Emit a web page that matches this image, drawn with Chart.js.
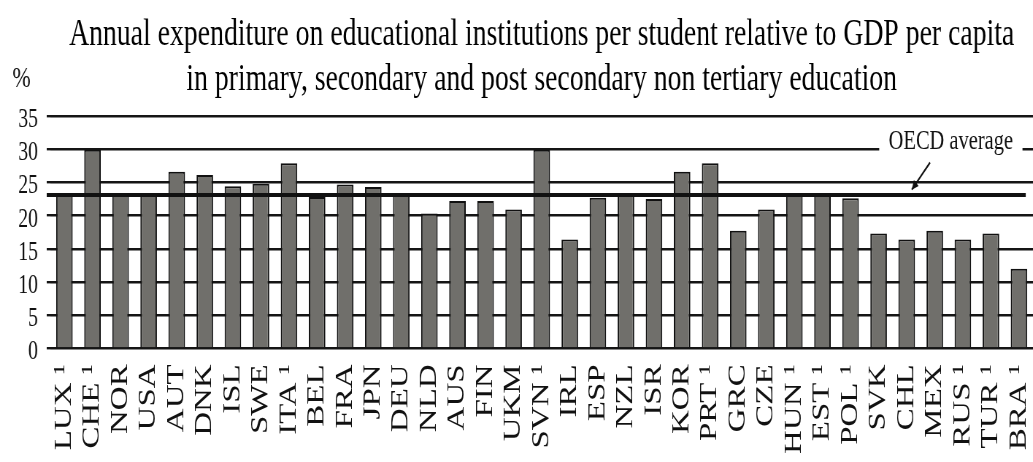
<!DOCTYPE html>
<html>
<head>
<meta charset="utf-8">
<script src="https://cdn.jsdelivr.net/npm/chart.js@4"></script>
<style>
  html, body { margin: 0; padding: 0; background: #fff; overflow: hidden; }
  #wrap { width: 1033px; height: 462px; overflow: hidden; }
  /* the original figure is squeezed sideways, so draw wide and squeeze it */
  #myChart { transform: scaleX(0.73); transform-origin: 0 0; }
</style>
</head>
<body>
<div id="wrap"><canvas id="myChart" width="1452" height="462"></canvas></div>
<script>
const countries = ['LUX \u00b9', 'CHE \u00b9', 'NOR', 'USA', 'AUT', 'DNK', 'ISL', 'SWE', 'ITA \u00b9', 'BEL',
  'FRA', 'JPN', 'DEU', 'NLD', 'AUS', 'FIN', 'UKM', 'SVN \u00b9', 'IRL', 'ESP', 'NZL', 'ISR',
  'KOR', 'PRT \u00b9', 'GRC', 'CZE', 'HUN \u00b9', 'EST \u00b9', 'POL \u00b9', 'SVK', 'CHL', 'MEX',
  'RUS \u00b9', 'TUR \u00b9', 'BRA \u00b9'];
const spending = [23.3, 29.9, 23.3, 23.3, 26.6, 26.1, 24.4, 24.8, 27.9, 22.8,
  24.7, 24.3, 23.3, 20.3, 22.2, 22.2, 20.9, 29.9, 16.4, 22.7, 23.3, 22.5,
  26.6, 27.9, 17.7, 20.9, 23.3, 23.3, 22.6, 17.3, 16.4, 17.7,
  16.4, 17.3, 12.0];
const oecdAverage = 23.1;
const titleLines = ['Annual expenditure on educational institutions per student relative to GDP per capita',
  'in primary, secondary and post secondary non tertiary education'];
const unitLabel = '%';
const avgLabel = 'OECD average';

const serif = '"Liberation Serif", "DejaVu Serif", serif';

const avgPlugin = {
  id: 'avgPlugin',
  afterDatasetsDraw(chart) {
    const {ctx, chartArea, scales: {x, y}} = chart;
    const yAvg = y.getPixelForValue(oecdAverage);
    ctx.save();
    // thick average line
    ctx.strokeStyle = '#111';
    ctx.lineWidth = 4;
    ctx.beginPath();
    ctx.moveTo(chartArea.left - 5, yAvg);
    ctx.lineTo(chartArea.right - 10, yAvg);
    ctx.stroke();

    // label sitting on the 30 line
    ctx.font = '28px ' + serif;
    const lx = x.getPixelForValue(31) + 22;
    const ly = y.getPixelForValue(30);
    const w = ctx.measureText(avgLabel).width;
    ctx.fillStyle = '#fff';
    ctx.fillRect(lx - w / 2 - 13, ly - 24, w + 26, 32);
    ctx.fillStyle = '#111';
    ctx.textAlign = 'center';
    ctx.textBaseline = 'alphabetic';
    ctx.fillText(avgLabel, lx, ly);

    // arrow pointing at the line
    const tipX = x.getPixelForValue(30) + 7;
    const tipY = y.getPixelForValue(23.9);
    const tailX = tipX + 25;
    const tailY = y.getPixelForValue(28);
    ctx.strokeStyle = '#111';
    ctx.lineWidth = 2;
    ctx.beginPath();
    ctx.moveTo(tailX, tailY);
    ctx.lineTo(tipX, tipY);
    ctx.stroke();
    const ang = Math.atan2(tipY - tailY, tipX - tailX);
    ctx.beginPath();
    ctx.moveTo(tipX, tipY);
    ctx.lineTo(tipX - 10 * Math.cos(ang - 0.45), tipY - 10 * Math.sin(ang - 0.45));
    ctx.lineTo(tipX - 10 * Math.cos(ang + 0.45), tipY - 10 * Math.sin(ang + 0.45));
    ctx.closePath();
    ctx.fillStyle = '#111';
    ctx.fill();

    // unit above the y axis
    ctx.font = '30px ' + serif;
    ctx.textAlign = 'left';
    ctx.fillText(unitLabel, 17, 87);
    ctx.restore();
  }
};

const ctx = document.getElementById('myChart');
new Chart(ctx, {
  type: 'bar',
  data: {
    labels: countries,
    datasets: [{
      data: spending,
      backgroundColor: '#706f6b',
      borderColor: '#111',
      borderWidth: 2,
      barPercentage: 0.59,
      categoryPercentage: 1
    }]
  },
  options: {
    responsive: false,
    animation: false,
    layout: { padding: { left: 13, right: 4, top: 0, bottom: -8 } },
    plugins: {
      legend: { display: false },
      tooltip: { enabled: false },
      title: {
        display: true,
        fullSize: false,
        text: titleLines,
        color: '#000',
        font: { family: serif, size: 38, weight: 'normal', lineHeight: '45px' },
        padding: { top: 13, bottom: 13 }
      }
    },
    scales: {
      x: {
        grid: { display: false, drawTicks: false },
        border: { display: false },
        ticks: {
          color: '#111',
          autoSkip: false,
          maxRotation: 90,
          minRotation: 90,
          padding: 16,
          font: { family: serif, size: 33 }
        }
      },
      y: {
        min: 0,
        max: 35,
        border: { display: false },
        grid: { color: '#151515', lineWidth: 2.4, tickLength: 5 },
        ticks: {
          stepSize: 5,
          autoSkip: false,
          color: '#111',
          padding: 12,
          labelOffset: 4,
          font: { family: serif, size: 27 }
        }
      }
    }
  },
  plugins: [avgPlugin]
});
</script>
</body>
</html>
